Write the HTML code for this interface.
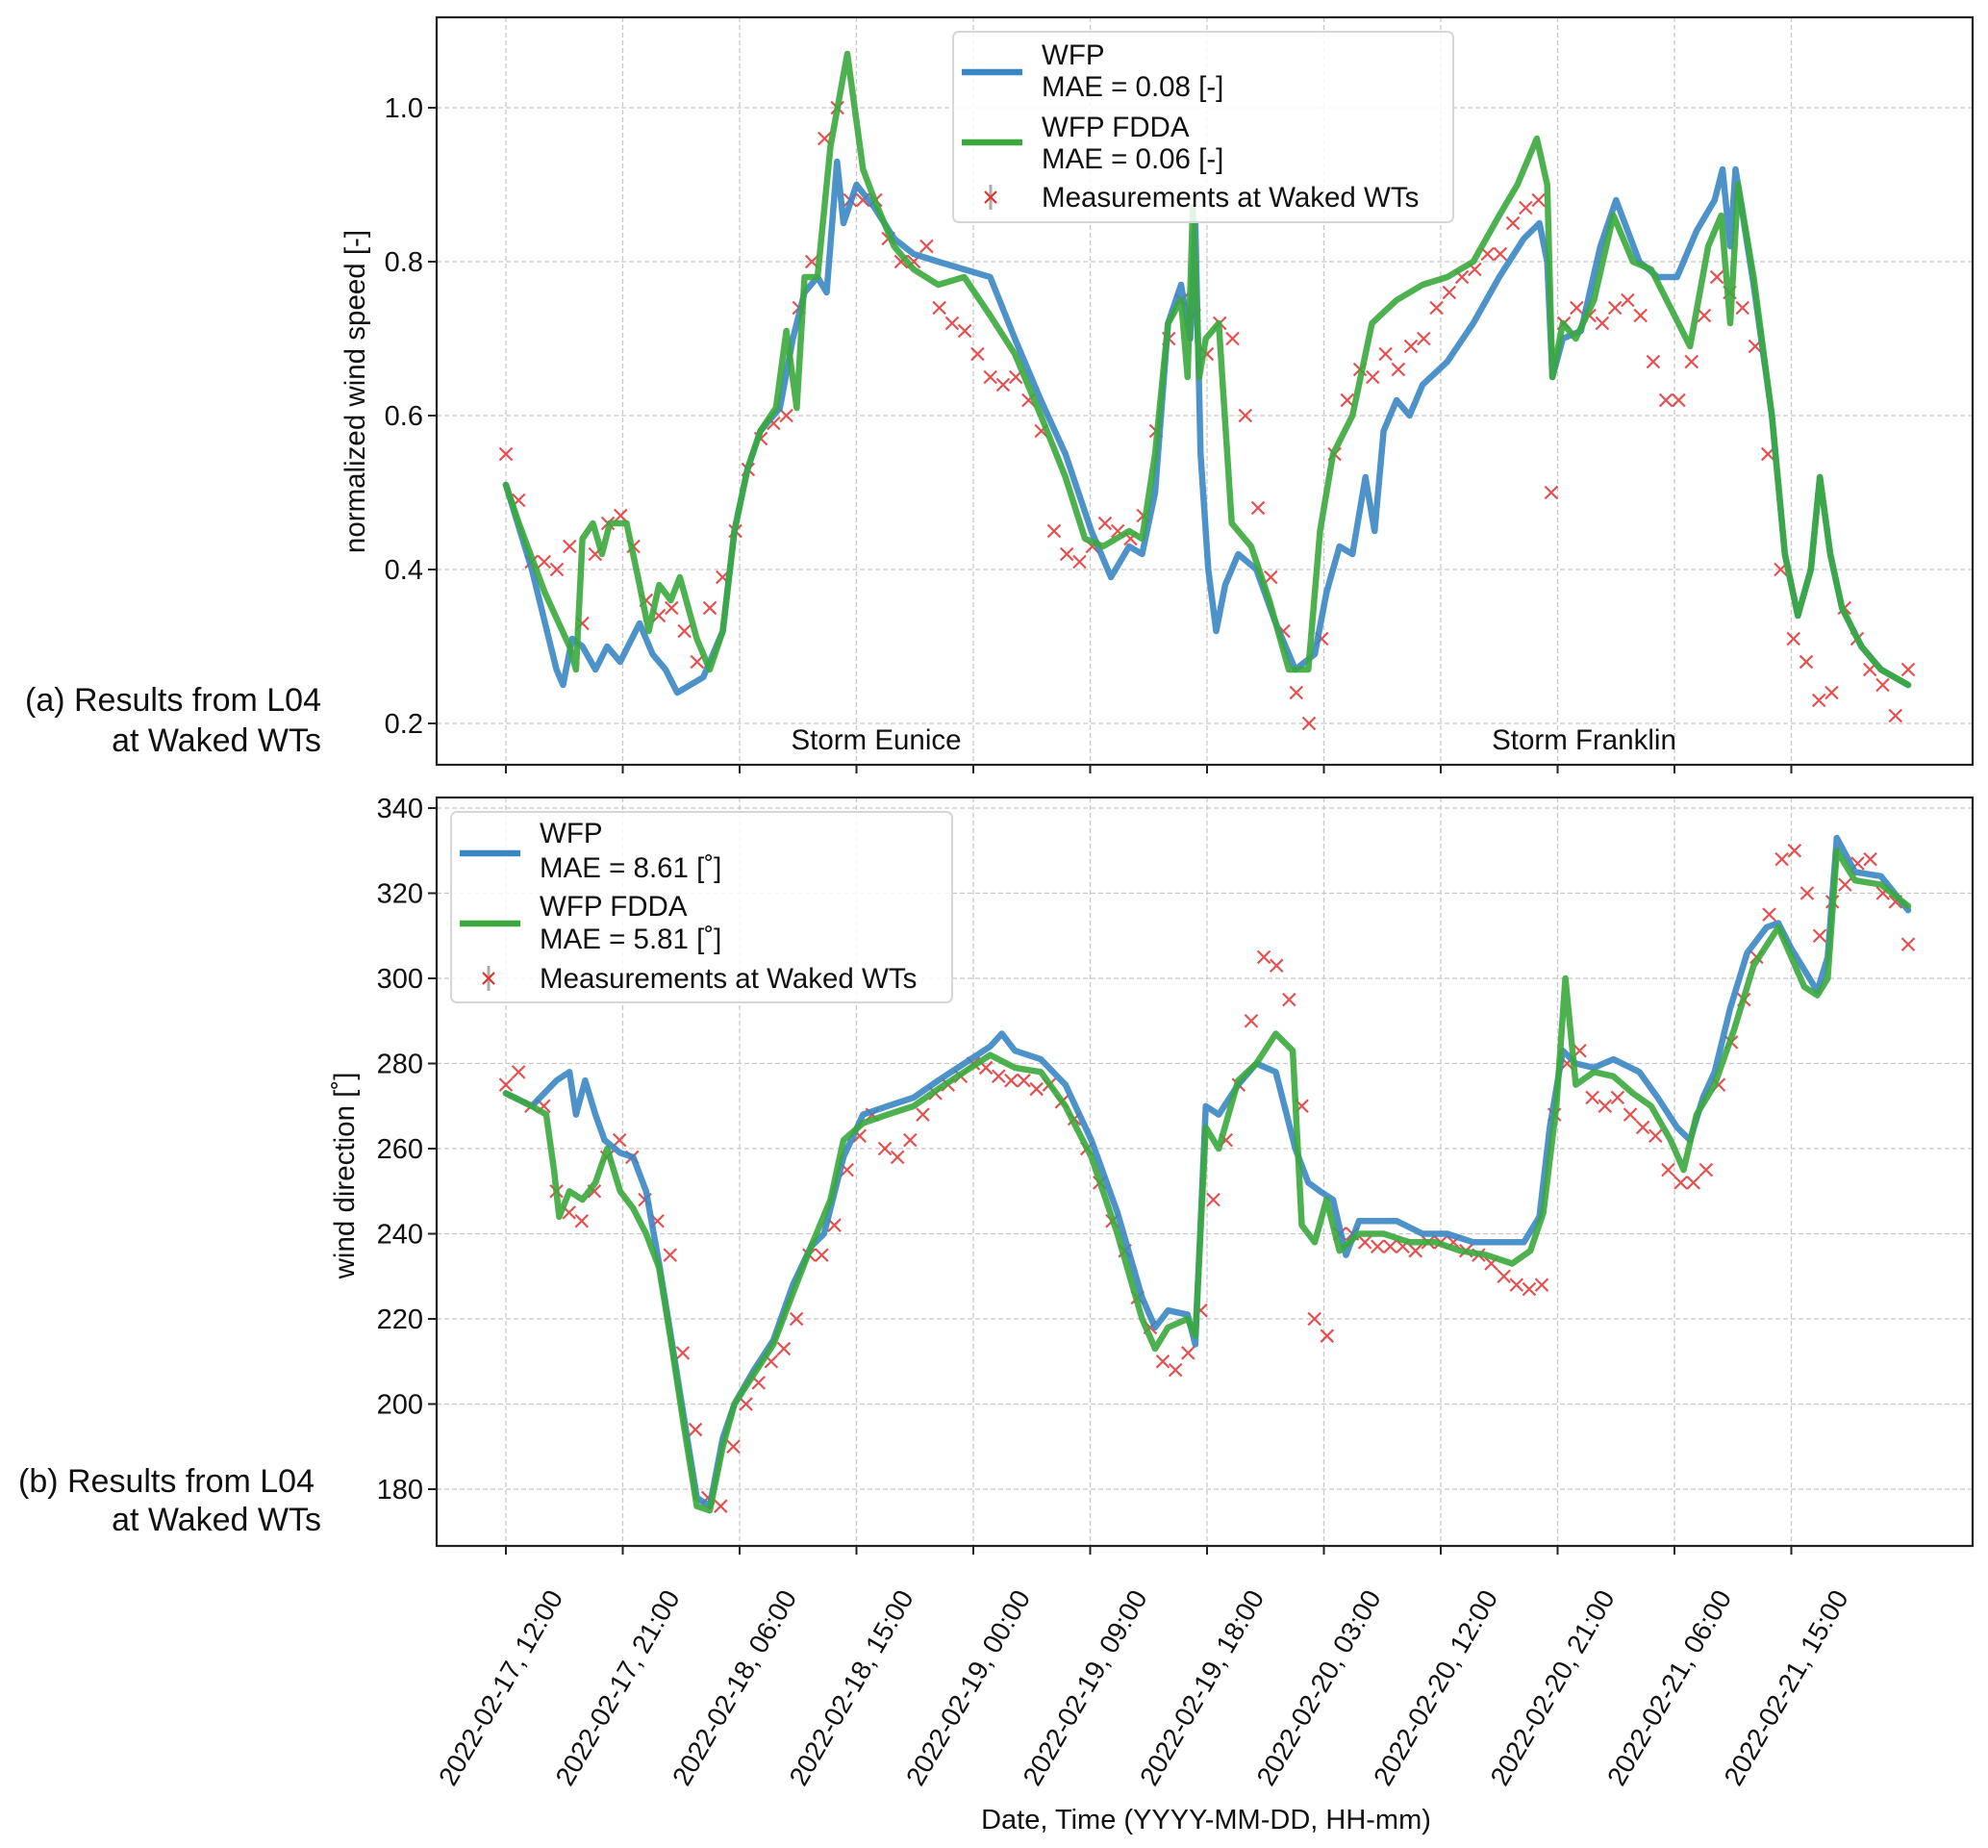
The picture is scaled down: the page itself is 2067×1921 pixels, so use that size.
<!DOCTYPE html>
<html><head><meta charset="utf-8">
<style>
html,body{margin:0;padding:0;background:#fff;}
svg{display:block;font-family:"Liberation Sans","DejaVu Sans",sans-serif;}
</style></head>
<body>
<svg id="chart" width="2067" height="1921" viewBox="0 0 2067 1921" xmlns="http://www.w3.org/2000/svg">
<rect width="2067" height="1921" fill="#fff"/>
<g id="g"></g>
</svg>
<script>
// ---------- data ----------
const xTickLabels = ["2022-02-17, 12:00","2022-02-17, 21:00","2022-02-18, 06:00","2022-02-18, 15:00","2022-02-19, 00:00","2022-02-19, 09:00","2022-02-19, 18:00","2022-02-20, 03:00","2022-02-20, 12:00","2022-02-20, 21:00","2022-02-21, 06:00","2022-02-21, 15:00"];
const xTickHours = [0,9,18,27,36,45,54,63,72,81,90,99];
const speedTicks = [0.2,0.4,0.6,0.8,1.0];
const dirTicks = [180,200,220,240,260,280,300,320,340];

const speedWfpT = [0,2.0,3.9,4.4,5.1,5.9,6.9,7.8,8.8,10.3,11.3,12.3,13.2,14.2,15.2,16.7,17.6,18.6,19.6,21.1,22.1,23.0,24.0,24.7,25.5,26.0,27.0,28.4,29.9,31.4,33.3,35.3,37.3,39.2,41.2,43.1,45.1,46.6,48.0,49.0,50.0,51.0,52.0,52.7,53.1,53.5,54.1,54.7,55.4,56.4,57.8,59.3,60.8,62.3,63.2,64.2,65.2,66.2,66.9,67.6,68.6,69.6,70.6,72.5,74.5,76.5,78.4,79.6,80.2,80.6,81.4,82.8,84.3,85.5,87.3,88.7,90.2,91.7,93.1,93.7,94.3,94.7,96.1,97.5,98.5,99.5,100.5,101.2,102.0,102.9,104.4,105.9,108.0];
const speedWfp = [0.51,0.40,0.27,0.25,0.31,0.30,0.27,0.30,0.28,0.33,0.29,0.27,0.24,0.25,0.26,0.32,0.45,0.53,0.58,0.61,0.70,0.76,0.78,0.76,0.93,0.85,0.90,0.87,0.83,0.81,0.80,0.79,0.78,0.70,0.62,0.55,0.45,0.39,0.43,0.42,0.50,0.72,0.77,0.70,0.85,0.55,0.40,0.32,0.38,0.42,0.40,0.33,0.27,0.29,0.37,0.43,0.42,0.52,0.45,0.58,0.62,0.60,0.64,0.67,0.72,0.78,0.83,0.85,0.80,0.65,0.70,0.71,0.82,0.88,0.80,0.78,0.78,0.84,0.88,0.92,0.82,0.92,0.77,0.60,0.42,0.34,0.40,0.52,0.42,0.35,0.30,0.27,0.25];

const speedFddaT = [0,1,3,4.9,5.4,5.9,6.7,7.4,8,9.3,10.3,11,11.8,12.7,13.4,14.7,15.7,16.7,17.6,18.6,19.6,20.8,21.6,22.4,23,24,25,26.3,27.5,28.4,29.9,31.4,33.3,35.3,37.3,39.2,41.2,43.1,44.6,46,48,49,50,51,52,52.5,52.9,53.4,53.9,54.9,55.9,57.4,58.8,60.3,61.8,62.7,63.7,65.2,66.7,68.6,70.6,72.5,74.5,76.5,77.9,79.4,80.2,80.6,81.4,82.4,83.8,85.3,86.8,88.2,89.7,91.2,92.6,93.6,94.3,94.9,96.1,97.5,98.5,99.5,100.5,101.2,102,102.9,104.4,105.9,108];
const speedFdda = [0.51,0.46,0.37,0.30,0.27,0.44,0.46,0.42,0.46,0.46,0.38,0.32,0.38,0.36,0.39,0.31,0.27,0.32,0.45,0.53,0.58,0.61,0.71,0.61,0.78,0.78,0.95,1.07,0.92,0.88,0.82,0.79,0.77,0.78,0.73,0.68,0.60,0.52,0.44,0.43,0.45,0.44,0.55,0.72,0.75,0.65,0.87,0.65,0.70,0.72,0.46,0.43,0.36,0.27,0.27,0.45,0.55,0.60,0.72,0.75,0.77,0.78,0.80,0.86,0.90,0.96,0.90,0.65,0.72,0.70,0.75,0.86,0.80,0.79,0.74,0.69,0.82,0.86,0.72,0.90,0.78,0.60,0.42,0.34,0.40,0.52,0.42,0.35,0.30,0.27,0.25];

const speedMeas = [0.55,0.49,0.41,0.41,0.40,0.43,0.33,0.42,0.46,0.47,0.43,0.36,0.34,0.35,0.32,0.28,0.35,0.39,0.45,0.53,0.57,0.59,0.60,0.74,0.80,0.96,1.00,0.88,0.88,0.88,0.83,0.80,0.80,0.82,0.74,0.72,0.71,0.68,0.65,0.64,0.65,0.62,0.58,0.45,0.42,0.41,0.43,0.46,0.45,0.44,0.47,0.58,0.70,0.75,0.73,0.68,0.72,0.70,0.60,0.48,0.39,0.32,0.24,0.20,0.31,0.55,0.62,0.66,0.65,0.68,0.66,0.69,0.70,0.74,0.76,0.78,0.79,0.81,0.81,0.85,0.87,0.88,0.50,0.72,0.74,0.73,0.72,0.74,0.75,0.73,0.67,0.62,0.62,0.67,0.73,0.78,0.76,0.74,0.69,0.55,0.40,0.31,0.28,0.23,0.24,0.35,0.31,0.27,0.25,0.21,0.27];

const dirWfpT = [0,2.0,3.9,4.9,5.4,6.1,6.9,7.6,8.8,9.8,10.8,11.8,12.7,13.7,14.7,15.7,16.7,17.6,19.1,20.6,22.1,23.5,24.5,26.0,27.5,29.4,31.4,33.3,35.3,37.3,38.2,39.2,41.2,43.1,45.1,47.1,49.0,50.0,51.0,52.5,53.1,53.9,54.9,56.4,57.8,59.3,60.8,61.8,62.7,63.7,64.7,65.7,66.7,68.6,70.6,72.5,74.5,76.5,78.4,79.6,80.4,81.4,82.4,83.8,85.3,87.3,88.7,90.2,91.2,92.2,93.1,94.3,95.6,97.1,98.0,99.0,100.0,101.0,101.8,102.5,103.9,105.9,108.0];
const dirWfp = [273,270,276,278,268,276,268,262,259,258,250,233,216,197,178,176,192,200,208,215,228,237,240,258,268,270,272,276,280,284,287,283,281,275,262,245,225,218,222,221,214,270,268,275,280,278,260,252,250,248,235,243,243,243,240,240,238,238,238,244,265,283,280,279,281,278,272,265,262,272,278,293,306,312,313,307,302,297,305,333,325,324,316];

const dirFddaT = [0,2.0,3.1,3.7,4.1,4.9,5.9,6.9,7.8,8.8,9.8,10.8,11.8,12.7,13.7,14.7,15.7,16.7,17.6,19.1,20.6,22.1,23.5,25.0,26.0,27.5,29.4,31.4,33.3,35.3,37.3,39.2,41.2,43.1,45.1,47.1,49.0,50.0,51.0,52.5,53.1,53.9,54.9,56.4,57.8,59.3,60.6,61.3,62.3,63.2,64.2,65.7,67.6,69.6,71.6,73.5,75.5,77.5,78.9,79.9,80.9,81.6,82.4,83.8,85.3,86.8,88.2,89.7,90.7,91.7,93.1,94.6,96.1,98.0,99.0,100.0,101.0,101.8,102.5,103.9,105.9,108.0];
const dirFdda = [273,270,268,255,244,250,248,252,260,250,246,240,232,215,195,176,175,190,200,207,214,226,237,248,262,266,268,270,274,278,282,279,278,270,258,240,220,213,218,220,216,265,260,276,280,287,283,242,238,248,236,240,240,238,238,236,235,233,236,245,270,300,275,278,277,273,270,262,255,268,275,288,303,312,305,298,296,300,330,323,322,317];

const dirMeas = [275,278,270,270,250,245,243,250,258,262,258,248,243,235,212,194,178,176,190,200,205,210,213,220,235,235,242,255,263,268,260,258,262,268,273,275,277,280,279,277,276,276,274,275,271,267,260,252,243,236,225,218,210,208,212,222,248,262,275,290,305,303,295,270,220,216,240,240,238,237,237,237,236,238,238,238,236,235,233,230,228,227,228,268,280,283,272,270,272,268,265,263,255,252,252,255,275,285,295,305,315,328,330,320,310,318,322,327,328,320,318,308];
const measStartHour = 0, measEndHour = 108;

// ---------- layout ----------
const NS = "http://www.w3.org/2000/svg";
const root = document.getElementById('g');
const X0 = 526, PXH = 13.5;
const xScale = h => X0 + h * PXH;
const panelA = {l:454, r:2051, t:18, b:795};
const panelB = {l:454, r:2051, t:829, b:1607};
const ySpeed = v => 752 - (v - 0.2) * 800;
const yDir = v => 1548 - (v - 180) * 4.425;
const BLUE = "#3a86c3", GREEN = "#3ba83d", RED = "#e03030";

function mk(tag, attrs, parent) {
  const e = document.createElementNS(NS, tag);
  for (const k in attrs) e.setAttribute(k, attrs[k]);
  (parent || root).appendChild(e);
  return e;
}
function txt(s, attrs, parent) { const e = mk('text', attrs, parent); e.textContent = s; return e; }

function drawPanel(p, yf, ticks, fmt, name) {
  const g = mk('g', {});
  
  
  xTickHours.forEach(h => {
    const gl = mk('line', {x1:xScale(h), x2:xScale(h), y1:p.t, y2:p.b, stroke:'#c8c8c8', 'stroke-width':1.3, 'stroke-dasharray':'5,3'}, g);
    
    
    const tk = mk('line', {x1:xScale(h), x2:xScale(h), y1:p.b, y2:p.b + 9, stroke:'#222', 'stroke-width':2}, g);
    
    
  });
  ticks.forEach(v => {
    const y = yf(v);
    const gl = mk('line', {x1:p.l, x2:p.r, y1:y, y2:y, stroke:'#c8c8c8', 'stroke-width':1.3, 'stroke-dasharray':'5,3'}, g);
    
    
    const tk = mk('line', {x1:p.l - 9, x2:p.l, y1:y, y2:y, stroke:'#222', 'stroke-width':2}, g);
    
    
    const t = txt(fmt(v), {x:p.l - 14, y:y + 10, 'text-anchor':'end', 'font-size':29, fill:'#111'}, g);
    
    
  });
  return g;
}

function drawLine(ts, vs, yf, color, name, p) {
  const n = Math.min(ts.length, vs.length);
  let d = '';
  for (let i = 0; i < n; i++) d += (i ? 'L' : 'M') + xScale(ts[i]).toFixed(1) + ',' + yf(vs[i]).toFixed(1);
  const e = mk('path', {d:d, fill:'none', stroke:color, 'stroke-width':6.5, 'stroke-opacity':0.9, 'stroke-linejoin':'round', 'stroke-linecap':'round', 'clip-path':'url(#' + p + ')'});
  
  
}
function drawMeas(vs, yf, name) {
  const g = mk('g', {stroke:RED, 'stroke-width':2.2, 'stroke-opacity':0.85});
  
  
  const step = (measEndHour - measStartHour) / (vs.length - 1);
  vs.forEach((v, i) => {
    const x = xScale(measStartHour + i * step), y = yf(v), s = 6.5;
    const m = mk('path', {d:`M${x-s},${y-s}L${x+s},${y+s}M${x-s},${y+s}L${x+s},${y-s}`}, g);
    
    
  });
}

const defs = mk('defs', {});
const c1 = mk('clipPath', {id:'cA'}, defs); mk('rect', {x:panelA.l, y:panelA.t, width:panelA.r-panelA.l, height:panelA.b-panelA.t}, c1);
const c2 = mk('clipPath', {id:'cB'}, defs); mk('rect', {x:panelB.l, y:panelB.t, width:panelB.r-panelB.l, height:panelB.b-panelB.t}, c2);

drawPanel(panelA, ySpeed, speedTicks, v => v.toFixed(1), 'wind-speed');
drawPanel(panelB, yDir, dirTicks, v => String(v), 'wind-direction');

drawMeas(speedMeas, ySpeed, 'speed-measurements');
drawLine(speedWfpT, speedWfp, ySpeed, BLUE, 'speed-wfp-line', 'cA');
drawLine(speedFddaT, speedFdda, ySpeed, GREEN, 'speed-fdda-line', 'cA');
drawMeas(dirMeas, yDir, 'direction-measurements');
drawLine(dirWfpT, dirWfp, yDir, BLUE, 'direction-wfp-line', 'cB');
drawLine(dirFddaT, dirFdda, yDir, GREEN, 'direction-fdda-line', 'cB');

[panelA, panelB].forEach(p => {
  const f = mk('rect', {x:p.l, y:p.t, width:p.r-p.l, height:p.b-p.t, fill:'none', stroke:'#222', 'stroke-width':2.2});
  
  
});

xTickHours.forEach((h, i) => {
  const x = xScale(h) + 60, y = 1660;
  const t = txt(xTickLabels[i], {x:x, y:y, 'text-anchor':'end', 'font-size':28, fill:'#111', transform:`rotate(-60 ${x} ${y})`});
  
  
});

function legend(x, y, w, h, lines, name) {
  const g = mk('g', {});
  
  
  mk('rect', {x:x, y:y, width:w, height:h, rx:6, fill:'#fff', 'fill-opacity':0.85, stroke:'#d6d6d6', 'stroke-width':2}, g);
  lines.forEach(L => {
    if (L.type === 'line') mk('line', {x1:L.x1, x2:L.x2, y1:L.y, y2:L.y, stroke:L.c, 'stroke-width':6.5}, g);
    else if (L.type === 'marker') {
      mk('line', {x1:L.x, x2:L.x, y1:L.y-13, y2:L.y+13, stroke:'#aaa', 'stroke-width':3}, g);
      mk('path', {d:`M${L.x-6},${L.y-6}L${L.x+6},${L.y+6}M${L.x-6},${L.y+6}L${L.x+6},${L.y-6}`, stroke:RED, 'stroke-width':2.2}, g);
    } else {
      const t = txt(L.s, {x:L.x, y:L.y, 'font-size':29.5, fill:'#111'}, g);
      
      
    }
  });
}
legend(991, 33, 520, 198, [
  {type:'line', x1:1000, x2:1063, y:75, c:BLUE},
  {type:'text', s:'WFP', x:1083, y:67},
  {type:'text', s:'MAE = 0.08 [-]', x:1083, y:100},
  {type:'line', x1:1000, x2:1063, y:148, c:GREEN},
  {type:'text', s:'WFP FDDA', x:1083, y:142},
  {type:'text', s:'MAE = 0.06 [-]', x:1083, y:175},
  {type:'marker', x:1030, y:205},
  {type:'text', s:'Measurements at Waked WTs', x:1083, y:215}
], 'speed-legend');
legend(469, 844, 521, 198, [
  {type:'line', x1:478, x2:541, y:887, c:BLUE},
  {type:'text', s:'WFP', x:561, y:876},
  {type:'text', s:'MAE = 8.61 [˚]', x:561, y:912},
  {type:'line', x1:478, x2:541, y:960, c:GREEN},
  {type:'text', s:'WFP FDDA', x:561, y:952},
  {type:'text', s:'MAE = 5.81 [˚]', x:561, y:986},
  {type:'marker', x:508, y:1017},
  {type:'text', s:'Measurements at Waked WTs', x:561, y:1027}
], 'direction-legend');

const annos = [
  ['Storm Eunice', 911, 779, 'middle', 29.5, 'storm-eunice-label'],
  ['Storm Franklin', 1647, 779, 'middle', 29.5, 'storm-franklin-label'],
  ['(a) Results from L04', 334, 739, 'end', 34, 'panel-a-label'],
  ['at Waked WTs', 334, 781, 'end', 34, 'panel-a-label-line2'],
  ['(b) Results from L04', 327, 1551, 'end', 34, 'panel-b-label'],
  ['at Waked WTs', 334, 1591, 'end', 34, 'panel-b-label-line2'],
  ['Date, Time (YYYY-MM-DD, HH-mm)', 1254, 1901, 'middle', 29, 'x-axis-title']
];
annos.forEach(a => {
  const t = txt(a[0], {x:a[1], y:a[2], 'text-anchor':a[3], 'font-size':a[4], fill:'#111'});
  
  
});
const yl1 = txt('normalized wind speed [-]', {x:0, y:0, 'text-anchor':'middle', 'font-size':29.5, fill:'#111', transform:'translate(379 407) rotate(-90)'});


const yl2 = txt('wind direction [˚]', {x:0, y:0, 'text-anchor':'middle', 'font-size':29.5, fill:'#111', transform:'translate(368 1222) rotate(-90)'});


</script>
</body></html>
